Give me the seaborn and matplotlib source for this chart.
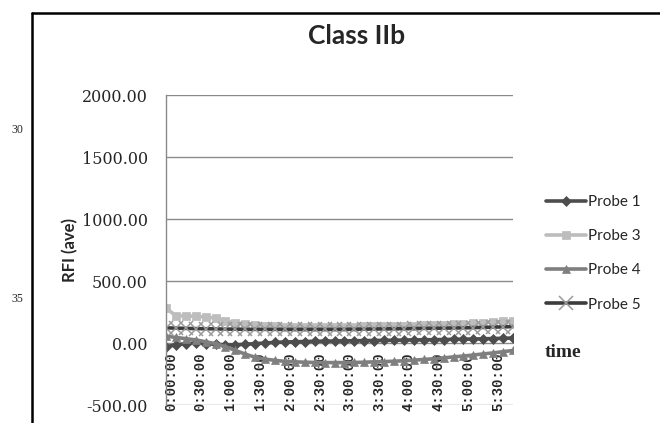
import matplotlib
matplotlib.use("Agg")
import matplotlib.pyplot as plt
import matplotlib.transforms as mtransforms
from matplotlib.lines import Line2D
import seaborn as sns
import pandas as pd

# 10-minute sampling, 0:00:00 to 5:50:00
times = ["%d:%02d:00" % divmod(m, 60) for m in range(0, 360, 10)]
tick_every = 3

probe1 = [-30, -15, -5, 0, -5, -10, -15, -15, -10, -5, 0, 5, 8, 10, 12, 14, 15, 16,
          18, 18, 20, 20, 22, 22, 24, 25, 26, 27, 28, 30, 31, 32, 34, 36, 38, 40]
probe3 = [280, 220, 218, 215, 210, 200, 180, 165, 155, 145, 140, 135, 132, 130, 130, 130, 130, 130,
          132, 132, 134, 135, 136, 138, 140, 140, 142, 145, 148, 150, 155, 160, 165, 170, 175, 180]
probe4 = [55, 45, 35, 25, 10, -5, -30, -60, -90, -115, -130, -140, -148, -152, -155, -157, -158, -158,
          -158, -157, -155, -152, -150, -147, -143, -138, -133, -127, -120, -112, -105, -97, -88, -80, -70, -60]
probe5 = [122, 120, 118, 116, 115, 114, 112, 112, 110, 110, 110, 110, 110, 110, 110, 110, 110, 110,
          111, 112, 112, 113, 114, 115, 116, 117, 118, 119, 120, 121, 122, 124, 126, 128, 130, 132]

series = {"Probe 1": probe1, "Probe 3": probe3, "Probe 4": probe4, "Probe 5": probe5}

styles = {
    "Probe 1": dict(color="#4d4d4d", marker="D", markersize=5, mfc="#4d4d4d", mec="#4d4d4d", mew=0.5),
    "Probe 3": dict(color="#bdbdbd", marker="s", markersize=6, mfc="#bdbdbd", mec="#bdbdbd", mew=0.5),
    "Probe 4": dict(color="#7f7f7f", marker="^", markersize=6, mfc="#7f7f7f", mec="#7f7f7f", mew=0.5),
    "Probe 5": dict(color="#3c3c3c", marker="x", markersize=10, mfc="none", mec="#9a9a9a", mew=1.1),
}

frames = []
for name, vals in series.items():
    frames.append(pd.DataFrame({"pos": range(len(times)), "time": times, "probe": name, "RFI": vals}))
df = pd.concat(frames, ignore_index=True)

sns.set_theme(style="white")
plt.rcParams["font.family"] = ["Lato", "DejaVu Sans"]

fig = plt.figure(figsize=(6.6, 4.23), dpi=100)
ax = fig.add_axes([166 / 660, 1 - 405 / 423, 347 / 660, 310 / 423])

for name in series:
    st = styles[name]
    sns.lineplot(data=df[df["probe"] == name], x="pos", y="RFI", ax=ax,
                 color=st["color"], linewidth=2.6, marker=st["marker"],
                 markersize=st["markersize"], markerfacecolor=st["mfc"],
                 markeredgecolor=st["mec"], markeredgewidth=st["mew"],
                 label=name, legend=False, errorbar=None)

ax.set_xlim(0, len(times) - 1)
ax.set_ylim(-500, 2000)
yticks = [-500, 0, 500, 1000, 1500, 2000]
ax.set_yticks(yticks)
ax.set_yticklabels(["%.2f" % v for v in yticks], family="DejaVu Serif", fontsize=11.5)
ax.yaxis.grid(True, color="#8a8a8a", linewidth=1)
ax.xaxis.grid(False)

# category axis sits on the zero line
ax.spines["bottom"].set_position(("data", 0))
ax.spines["bottom"].set_visible(False)
for side in ("top", "right"):
    ax.spines[side].set_visible(False)
ax.spines["left"].set_color("#8a8a8a")
ax.spines["left"].set_linewidth(1)

xt = list(range(0, len(times), tick_every))
ax.set_xticks(xt)
ax.set_xticklabels([times[i] for i in xt], rotation=90, fontsize=10, va="top", ha="center",
                   family="Liberation Mono", fontweight="bold")
ax.tick_params(axis="x", length=0, pad=7)
ax.tick_params(axis="y", length=0, pad=13)
shift = mtransforms.ScaledTranslation(5 / 100, 0, fig.dpi_scale_trans)
for lab in ax.get_xticklabels():
    lab.set_transform(lab.get_transform() + shift)
ax.set_xlabel("")
ax.set_ylabel("RFI (ave)", fontsize=12, fontweight="bold", labelpad=2.5)

fig.text(357 / 660, 1 - 36 / 423, "Class IIb", ha="center", va="center",
         fontsize=19, fontweight="bold")

handles = []
for name in series:
    st = styles[name]
    handles.append(Line2D([], [], color=st["color"], linewidth=2.6, marker=st["marker"],
                          markersize=st["markersize"], markerfacecolor=st["mfc"],
                          markeredgecolor=st["mec"], markeredgewidth=st["mew"]))
fig.legend(handles, list(series), loc="upper left", bbox_to_anchor=(540 / 660, 1 - 189 / 423),
           frameon=False, fontsize=11, handlelength=2.6, handletextpad=0.15,
           labelspacing=1.32, borderaxespad=0)

fig.text(545 / 660, 1 - 352 / 423, "time", ha="left", va="center",
         family="Liberation Serif", fontsize=14, fontweight="bold")

# page margin line numbers and frame
fig.text(17 / 660, 1 - 130 / 423, "30", ha="center", va="center",
         family="Liberation Serif", fontsize=8.5)
fig.text(17 / 660, 1 - 299 / 423, "35", ha="center", va="center",
         family="Liberation Serif", fontsize=8.5)
fig.add_artist(Line2D([32 / 660, 32 / 660], [0, 1 - 13 / 423], color="black", linewidth=1.8,
                      transform=fig.transFigure))
fig.add_artist(Line2D([32 / 660, 1], [1 - 13 / 423, 1 - 13 / 423], color="black", linewidth=1.8,
                      transform=fig.transFigure))

fig.savefig("out.png", dpi=100)
